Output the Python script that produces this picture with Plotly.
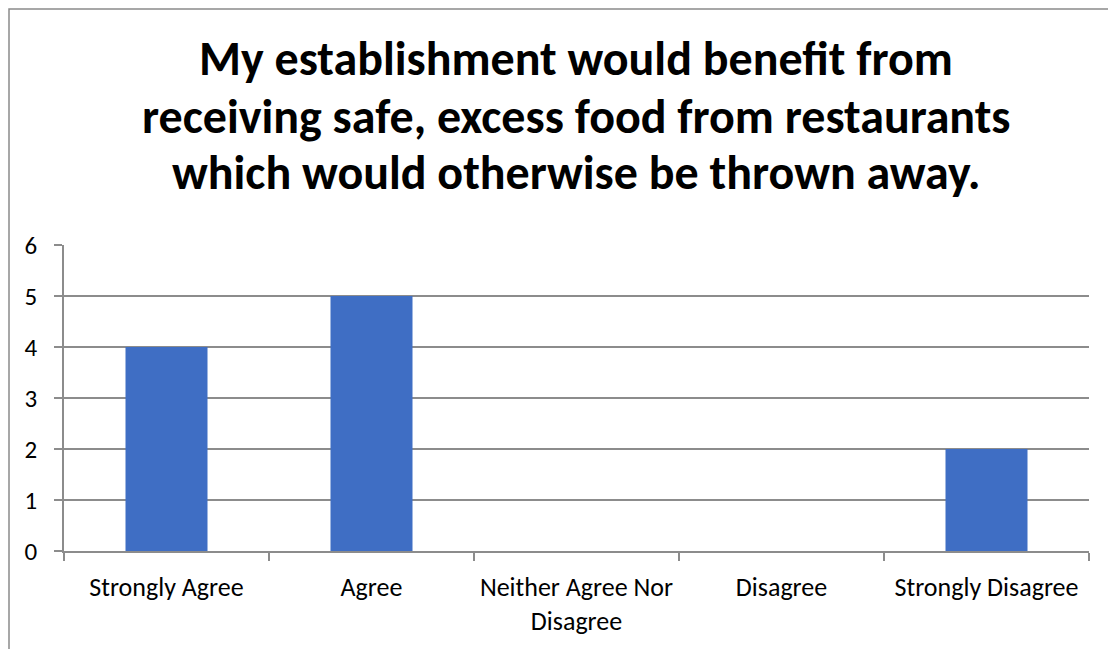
import plotly.graph_objects as go

categories = ["Strongly Agree", "Agree", "Neither Agree Nor<br>Disagree", "Disagree", "Strongly Disagree"]
values = [4, 5, 0, 0, 2]
title_lines = [
    "My establishment would benefit from",
    "receiving safe, excess food from restaurants",
    "which would otherwise be thrown away.",
]
y_ticks = [0, 1, 2, 3, 4, 5, 6]

FONT = "Calibri, Carlito, Lato, sans-serif"
GRID = "#8c8c8c"

# page has an 8px body margin; work in page coordinates
OFF = 8
W, H = 1116 - OFF, 649 - OFF
PL, PR, PT, PB = 64, 1089, 245, 551      # plot area in page px
L, R, T, B = PL - OFF, (OFF + W) - PR, PT - OFF, (OFF + H) - PB
pw, ph = PR - PL, PB - PT

fig = go.Figure()
fig.add_trace(go.Bar(
    x=categories, y=values,
    marker=dict(color="#3f6ec4", line=dict(width=0)),
    hoverinfo="x+y",
))

annotations = []
title_mid = [59, 117, 172]
for line, yc in zip(title_lines, title_mid):
    annotations.append(dict(
        text="<b>" + line + "</b>", xref="paper", yref="paper",
        x=(576 - PL) / pw, y=(PB - yc) / ph,
        xanchor="center", yanchor="middle", showarrow=False,
        font=dict(family=FONT, size=48, color="#000000"),
    ))

fig.update_layout(
    width=W, height=H,
    margin=dict(l=L, r=R, t=T, b=B, pad=0),
    paper_bgcolor="white", plot_bgcolor="white",
    bargap=0.6,
    showlegend=False,
    font=dict(family=FONT, size=26, color="#000000"),
    annotations=annotations,
    shapes=[dict(
        type="rect", xref="paper", yref="paper",
        x0=(9 - PL) / pw, x1=(1160 - PL) / pw,
        y0=(PB - 700) / ph, y1=(PB - 9) / ph,
        line=dict(color="#8a8a8a", width=1.5), fillcolor="rgba(0,0,0,0)",
        layer="below",
    )],
)

fig.update_xaxes(
    type="category", tickson="boundaries",
    showline=True, linecolor=GRID, linewidth=1.5,
    ticks="outside", ticklen=8, tickcolor=GRID, tickwidth=1.5,
    showgrid=False, ticklabelstandoff=12,
    tickfont=dict(family=FONT, size=26, color="#000000"),
)
fig.update_yaxes(
    range=[0, 6], tickvals=y_ticks, ticktext=[str(v) for v in y_ticks],
    showline=True, linecolor=GRID, linewidth=1.5,
    ticks="outside", ticklen=8, tickcolor=GRID, tickwidth=1.5,
    showgrid=True, gridcolor=GRID, gridwidth=1.5,
    zeroline=False, ticklabelstandoff=12,
    tickfont=dict(family=FONT, size=25, color="#000000"),
)

fig.write_html("out.html")
